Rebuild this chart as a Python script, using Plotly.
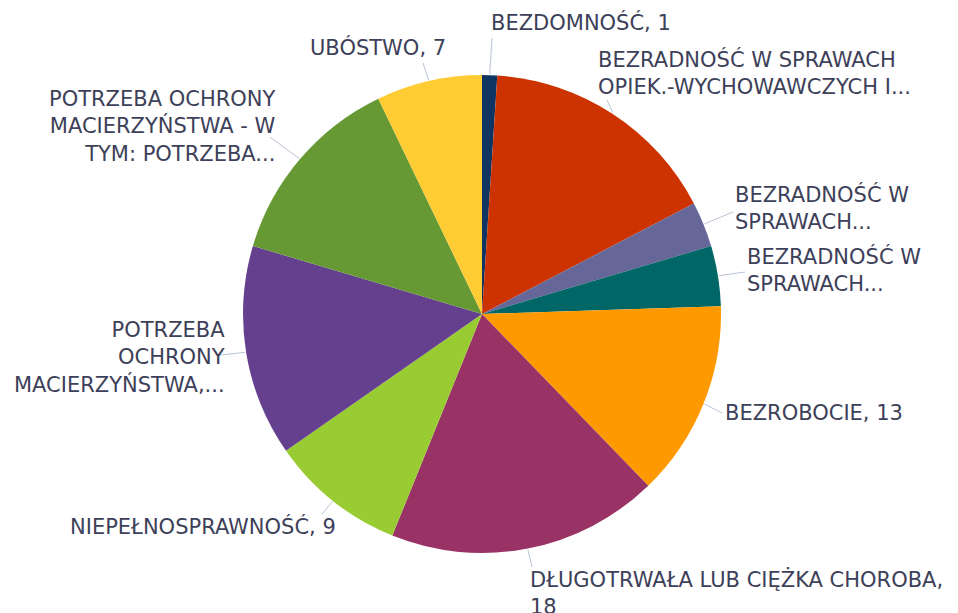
import math
import plotly.graph_objects as go

# ---- data ----
labels = [
    "BEZDOMNOŚĆ",
    "BEZRADNOŚĆ W SPRAWACH OPIEK.-WYCHOWAWCZYCH I...",
    "BEZRADNOŚĆ W SPRAWACH...",
    "BEZRADNOŚĆ W SPRAWACH... ",
    "BEZROBOCIE",
    "DŁUGOTRWAŁA LUB CIĘŻKA CHOROBA",
    "NIEPEŁNOSPRAWNOŚĆ",
    "POTRZEBA OCHRONY MACIERZYŃSTWA,...",
    "POTRZEBA OCHRONY MACIERZYŃSTWA - W TYM: POTRZEBA...",
    "UBÓSTWO",
]
values = [1, 16, 3, 4, 13, 18, 9, 14, 13, 7]
display_text = [
    "BEZDOMNOŚĆ, 1",
    "BEZRADNOŚĆ W SPRAWACH<br>OPIEK.-WYCHOWAWCZYCH I...",
    "BEZRADNOŚĆ W<br>SPRAWACH...",
    "BEZRADNOŚĆ W<br>SPRAWACH...",
    "BEZROBOCIE, 13",
    "DŁUGOTRWAŁA LUB CIĘŻKA CHOROBA,<br>18",
    "NIEPEŁNOSPRAWNOŚĆ, 9",
    "POTRZEBA<br>OCHRONY<br>MACIERZYŃSTWA,...",
    "POTRZEBA OCHRONY<br>MACIERZYŃSTWA - W<br>TYM: POTRZEBA...",
    "UBÓSTWO, 7",
]
colors = ["#0f3461", "#cc3300", "#666699", "#006666", "#ff9900",
          "#993366", "#99cc33", "#65408f", "#669933", "#ffcc33"]

# ---- layout geometry (pixels) ----
W, H = 958, 613
CX, CY, R = 482, 314, 239

def px(x):
    return x / W

def py(y):
    return 1 - y / H

# label placement: (anchor x, center y, side) and leader end point
label_pos = [
    (490, 22, "left"), (597, 73, "left"), (734, 208, "left"), (746, 270, "left"),
    (724, 413, "left"), (529, 593, "left"), (337, 526, "right"), (226, 357, "right"),
    (277, 127, "right"), (447, 48, "right"),
]
line_end = [
    (492, 38), (607, 100), (733, 212), (745, 272), (722, 413),
    (532, 567), (322, 514), (221, 355), (270, 137), (423, 63),
]

fig = go.Figure(go.Pie(
    labels=labels,
    values=values,
    marker=dict(colors=colors, line=dict(width=0)),
    sort=False,
    direction="clockwise",
    rotation=0,
    textinfo="none",
    hoverinfo="label+value",
    showlegend=False,
    domain=dict(x=[px(CX - 300), px(CX + 300)], y=[py(CY + R), py(CY - R)]),
))

total = sum(values)
cum = 0
shapes = []
annotations = []
for i, v in enumerate(values):
    mid = (cum + v / 2) / total * 2 * math.pi
    cum += v
    sx = CX + (R + 1) * math.sin(mid)
    sy = CY - (R + 1) * math.cos(mid)
    ex, ey = line_end[i]
    shapes.append(dict(type="line", xref="paper", yref="paper",
                       x0=px(sx), y0=py(sy), x1=px(ex), y1=py(ey),
                       line=dict(color="#b9c4d6", width=1)))
    ax, ay, side = label_pos[i]
    annotations.append(dict(
        text=display_text[i], xref="paper", yref="paper",
        x=px(ax), y=py(ay), xanchor=side, yanchor="middle", align=side,
        showarrow=False, font=dict(size=21, color="#3d4059"),
        borderpad=0,
    ))

fig.update_layout(
    width=W, height=H,
    margin=dict(l=0, r=0, t=0, b=0),
    paper_bgcolor="white", plot_bgcolor="white",
    font=dict(family="DejaVu Sans, sans-serif", size=21, color="#3d4059"),
    shapes=shapes,
    annotations=annotations,
)

fig.write_html("out.html", config={"displayModeBar": False},
               post_script="document.body.style.margin='0';")
